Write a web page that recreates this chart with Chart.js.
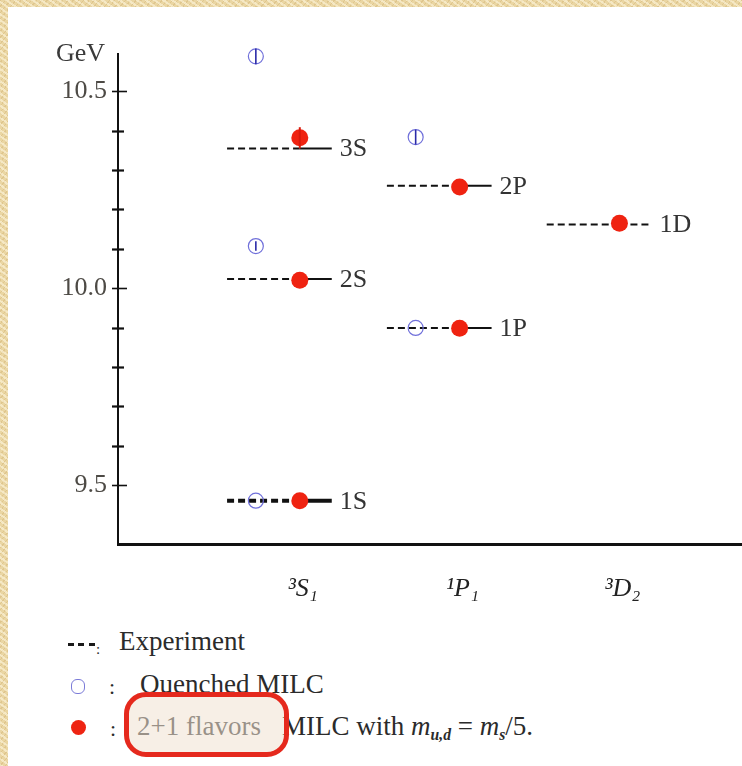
<!DOCTYPE html>
<html>
<head>
<meta charset="utf-8">
<title>Bottomonium spectrum</title>
<script src="https://cdn.jsdelivr.net/npm/chart.js@4.4.1/dist/chart.umd.min.js"></script>
<style>
  html, body { margin: 0; padding: 0; width: 742px; height: 766px; overflow: hidden; }
  body {
    position: relative;
    background-color: #ead6a3;
    background-image:
      repeating-linear-gradient(35deg, rgba(255,248,225,0.55) 0 2px, rgba(0,0,0,0) 2px 5px),
      repeating-linear-gradient(-50deg, rgba(190,150,80,0.25) 0 1px, rgba(0,0,0,0) 1px 4px);
  }
  #paper { position: absolute; left: 8px; top: 7px; right: 0; bottom: 0; background: #fff; }
  #chart { position: absolute; left: 0; top: 0; }
  .lg { position: absolute; font-family: "Liberation Serif", "DejaVu Serif", serif; font-size: 27px; line-height: 27px; color: #2b2b2b; white-space: nowrap; }
  .lg i { font-style: italic; }
  .lg sub { font-size: 58%; font-style: italic; font-weight: bold; vertical-align: -0.3em; line-height: 0; }
  .colon { font-size: 22px; }
  .smallcolon { font-size: 15px; }
  #dashes { position: absolute; left: 68px; top: 643px; width: 27px; height: 3px;
    background: repeating-linear-gradient(90deg, #1a1a1a 0 6px, rgba(0,0,0,0) 6px 10.5px); }
  #openSym { position: absolute; left: 71px; top: 679px; width: 12px; height: 13px; border: 1.5px solid #7b7bd8; border-radius: 6px; }
  #dotSym { position: absolute; left: 71px; top: 720px; width: 15px; height: 15px; border-radius: 50%; background: #ee2412; }
  #mark { position: absolute; left: 124px; top: 692px; width: 155px; height: 55px; border: 5px solid #e5291d; border-radius: 22px; background: rgba(238,220,200,0.45); }
</style>
</head>
<body>
<div id="paper"></div>
<canvas id="chart" width="750" height="620"></canvas>

<div id="dashes"></div>
<span class="lg smallcolon" style="left:96px; top:636px;">:</span>
<span class="lg" style="left:119px; top:628px;">Experiment</span>

<div id="openSym"></div>
<span class="lg colon" style="left:109px; top:673px;">:</span>
<span class="lg" style="left:140px; top:671px;">Quenched MILC</span>

<div id="dotSym"></div>
<span class="lg colon" style="left:110px; top:715px;">:</span>
<span class="lg" style="left:137px; top:713px; color:#555;">2+1 flavors</span>
<span class="lg" style="left:282px; top:713px;">MILC with <i>m</i><sub>u,d</sub> = <i>m</i><sub>s</sub>/5.</span>
<div id="mark"></div>

<script>
// Bottomonium levels by channel (GeV)
const columns = ['³S₁', '¹P₁', '³D₂'];
const levels = ['1S', '2S', '3S', '1P', '2P', '1D'];
const levelColumn = [0, 0, 0, 1, 1, 2];
const experiment = [9.460, 10.023, 10.355, 9.899, 10.260, 10.162];
const quenched = [9.460, 10.107, 10.589, 9.899, 10.384, null];
const quenchedErr = [0, 0.012, 0.02, 0, 0.019, null];
const dynamical = [9.460, 10.020, 10.382, 9.898, 10.257, 10.165];
const dynamicalErr = [0, 0, 0.027, 0, 0, 0];
const yTicks = [9.5, 9.6, 9.7, 9.8, 9.9, 10.0, 10.1, 10.2, 10.3, 10.4, 10.5];
const yTickLabels = ['9.5', '', '', '', '', '10.0', '', '', '', '', '10.5'];
const yUnit = 'GeV';

// horizontal placement inside each channel column
const QUENCHED_SHIFT = -0.275;
const LINE_FROM = -0.455;
const LINE_TO = 0.2;

const SERIF = '"Liberation Serif", "DejaVu Serif", serif';
const INK = '#111';

const datasets = [];
datasets.push({
  label: '2+1 flavors MILC',
  data: levels.map((n, i) => ({ x: levelColumn[i], y: dynamical[i], err: dynamicalErr[i] })),
  pointRadius: 8.5, pointHoverRadius: 8.5,
  backgroundColor: '#ef2311', borderWidth: 0,
  showLine: false, order: 0, clip: false
});
datasets.push({
  label: 'Quenched MILC',
  data: levels.map((n, i) => quenched[i] == null ? null :
    ({ x: levelColumn[i] + QUENCHED_SHIFT, y: quenched[i], err: quenchedErr[i] })).filter(Boolean),
  pointRadius: 7.5, pointHoverRadius: 7.5,
  backgroundColor: 'rgba(0,0,0,0)', borderColor: '#7070da', borderWidth: 1.2,
  showLine: false, order: 1, clip: false
});
levels.forEach((name, i) => {
  const c = levelColumn[i];
  const y = experiment[i];
  const w = name === '1S' ? 4 : 2;
  datasets.push({
    label: 'Experiment ' + name,
    data: [{ x: c + LINE_FROM, y }, { x: c, y }],
    showLine: true, borderColor: INK, borderWidth: w, borderDash: [7, 4],
    pointRadius: 0, order: 2
  });
  datasets.push({
    label: 'Experiment ' + name,
    data: [{ x: c, y }, { x: c + LINE_TO, y }],
    showLine: true, borderColor: INK, borderWidth: w, borderDash: c === 2 ? [7, 4] : [],
    pointRadius: 0, order: 2
  });
});

const decor = {
  id: 'decor',
  afterDatasetsDraw(chart) {
    const { ctx, scales: { x, y } } = chart;
    ctx.save();
    // error bars
    const bars = [
      { ds: datasets[0], color: '#d81a0c', width: 2 },
      { ds: datasets[1], color: '#2a2aa8', width: 1.6 }
    ];
    bars.forEach(b => {
      b.ds.data.forEach(p => {
        if (!p.err) return;
        const px = x.getPixelForValue(p.x);
        ctx.strokeStyle = b.color;
        ctx.lineWidth = b.width;
        ctx.beginPath();
        ctx.moveTo(px, y.getPixelForValue(p.y + p.err));
        ctx.lineTo(px, y.getPixelForValue(p.y - p.err));
        ctx.stroke();
      });
    });
    // level names
    ctx.fillStyle = '#333';
    ctx.font = '26px ' + SERIF;
    ctx.textAlign = 'left';
    ctx.textBaseline = 'middle';
    levels.forEach((name, i) => {
      ctx.fillText(name, x.getPixelForValue(levelColumn[i] + LINE_TO) + 8, y.getPixelForValue(experiment[i]) + 1);
    });
    ctx.restore();
  },
  afterDraw(chart) {
    const { ctx, chartArea, scales: { y } } = chart;
    ctx.save();
    ctx.strokeStyle = INK;
    yTicks.forEach((v, i) => {
      const py = Math.round(y.getPixelForValue(v)) + 0.5;
      const major = yTickLabels[i] !== '';
      ctx.lineWidth = major ? 1.6 : 2.2;
      ctx.beginPath();
      ctx.moveTo(chartArea.left - 6, py);
      ctx.lineTo(chartArea.left + (major ? 9 : 6), py);
      ctx.stroke();
    });
    ctx.fillStyle = '#3a3a3a';
    ctx.font = '26px ' + SERIF;
    ctx.textAlign = 'right';
    ctx.textBaseline = 'alphabetic';
    ctx.fillText(yUnit, chartArea.left - 13, chartArea.top + 7);
    ctx.restore();
  }
};

new Chart(document.getElementById('chart'), {
  type: 'scatter',
  data: { datasets },
  plugins: [decor],
  options: {
    responsive: false,
    devicePixelRatio: 1,
    animation: false,
    events: [],
    layout: { padding: { top: 54, right: 0, bottom: 0, left: 0 } },
    plugins: { legend: { display: false }, tooltip: { enabled: false } },
    scales: {
      x: {
        type: 'linear',
        min: -1.1375, max: 2.7625,
        afterBuildTicks: s => { s.ticks = columns.map((c, i) => ({ value: i })); },
        afterFit: s => { s.height = 76; },
        grid: { display: false, drawTicks: false },
        border: { display: true, color: INK, width: 3 },
        ticks: {
          autoSkip: false, maxRotation: 0, padding: 30, labelOffset: 3,
          color: '#222',
          font: { family: SERIF, size: 26, style: 'italic' },
          callback: (v, i) => columns[i]
        }
      },
      y: {
        type: 'linear',
        min: 9.35, max: 10.595,
        afterBuildTicks: s => { s.ticks = yTicks.map(v => ({ value: v })); },
        afterFit: s => { s.width = 118; },
        grid: { display: false, drawTicks: false },
        border: { display: true, color: INK, width: 2 },
        ticks: {
          autoSkip: false, padding: 11,
          color: '#4d4a45',
          font: { family: SERIF, size: 26 },
          callback: (v, i) => yTickLabels[i]
        }
      }
    }
  }
});
</script>
</body>
</html>
